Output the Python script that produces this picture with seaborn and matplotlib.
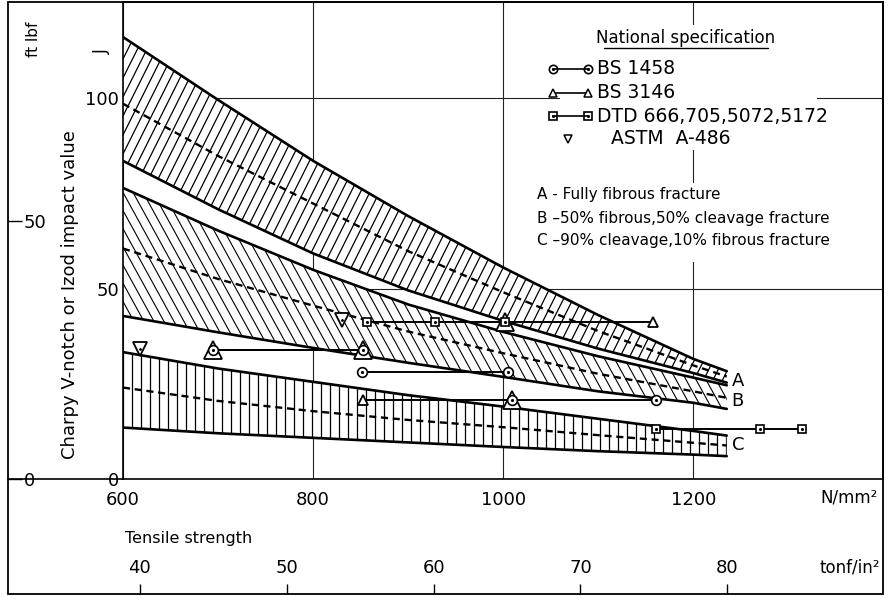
import numpy as np
import matplotlib
matplotlib.use("Agg")
import matplotlib.pyplot as plt
from matplotlib.collections import LineCollection
from matplotlib.patches import Rectangle
from matplotlib.lines import Line2D
import seaborn as sns

# ---------------------------------------------------------------------------
# Data
# ---------------------------------------------------------------------------
# Tensile strength (N/mm2) at which the band edges are given
strength = [600, 700, 800, 900, 1000, 1100, 1200, 1235]

# Band A - fully fibrous fracture (impact value, J)
a_upper = [116.0, 99.5, 83.5, 69.0, 55.5, 43.0, 31.5, 28.3]
a_mid = [98.5, 84.8, 72.3, 59.8, 49.0, 38.8, 29.8, 26.9]
a_lower = [83.5, 70.8, 59.2, 49.5, 41.5, 34.2, 27.8, 25.3]

# Band B - 50% fibrous, 50% cleavage fracture (J)
b_upper = [76.4, 65.2, 54.9, 45.8, 38.6, 32.2, 26.6, 24.6]
b_mid = [60.5, 52.5, 45.5, 38.7, 33.0, 27.6, 23.0, 21.3]
b_lower = [42.8, 38.5, 34.4, 30.5, 26.8, 23.0, 20.0, 18.4]

# Band C - 90% cleavage, 10% fibrous fracture (J)
c_upper = [33.3, 29.0, 25.5, 22.0, 19.0, 15.8, 12.6, 11.4]
c_mid = [24.0, 20.5, 17.8, 15.5, 13.6, 11.5, 9.5, 8.8]
c_lower = [13.5, 12.0, 10.8, 9.6, 8.4, 7.3, 6.4, 6.0]

# National specification minima (strength N/mm2, impact J), joined runs
bs1458_x = [[695, 852], [851, 1005], [1009, 1161]]
bs1458_y = [[33.8, 33.8], [28.0, 28.0], [20.7, 20.7]]
bs3146_x = [[695, 852], [852, 1009], [1002, 1157]]
bs3146_y = [[33.8, 33.8], [20.7, 20.7], [41.3, 41.3]]
dtd_x = [[857, 928, 1002], [1161, 1270, 1314]]
dtd_y = [[41.3, 41.3, 41.3], [13.1, 13.1, 13.1]]
astm_x = [618, 830]
astm_y = [34.0, 41.8]

spec_names = ["BS 1458", "BS 3146", "DTD 666,705,5072,5172", "ASTM  A-486"]
band_notes = ["A - Fully fibrous fracture",
              "B \u201350% fibrous,50% cleavage fracture",
              "C \u201390% cleavage,10% fibrous fracture"]

strength_ticks = [600, 800, 1000, 1200]
impact_ticks = [0, 50, 100]
ftlbf_ticks = [0, 50]
tonf_ticks = [40, 50, 60, 70, 80]

J_PER_FTLBF = 1.35582
NMM2_PER_TONF = 15.4443

# ---------------------------------------------------------------------------
# Style
# ---------------------------------------------------------------------------
sns.set_theme(style="white")
plt.rcParams["font.family"] = ["DejaVu Sans"]
plt.rcParams.update({"text.color": "black", "axes.labelcolor": "black",
                     "xtick.color": "black", "ytick.color": "black",
                     "axes.edgecolor": "black"})

W, H = 892, 596
fig = plt.figure(figsize=(W / 100, H / 100), dpi=100)


def fx(px):
    return px / W


def fy(py):
    return 1 - py / H


L, R, T, B = 123, 883, 2, 479
ax = fig.add_axes([fx(L), fy(B), (R - L) / W, (B - T) / H])
xlim = (600, 600 + (R - L) / 0.9508)
ylim = (0, (B - T) / 3.81)
ax.set_xlim(*xlim)
ax.set_ylim(*ylim)
ax.set_xticks(strength_ticks)
ax.set_yticks(impact_ticks)
ax.grid(True, color="#222222", lw=0.8)
ax.set_axisbelow(True)
for s in ax.spines.values():
    s.set_visible(True)
    s.set_linewidth(1.2)
    s.set_color("black")
ax.tick_params(axis="x", length=0, pad=8.5, labelsize=13)
ax.tick_params(axis="y", direction="in", length=7.5, width=1.0, pad=3, labelsize=13)
ax.set_xlabel("")
ax.set_ylabel("")

# white panels that the text blocks sit on
for x0, y0, x1, y1 in [(560, 25, 817, 150), (530, 183, 883, 262)]:
    ax.add_patch(Rectangle(((x0 - L) / (R - L), (B - y1) / (B - T)),
                           (x1 - x0) / (R - L), (y1 - y0) / (B - T),
                           transform=ax.transAxes, facecolor="white",
                           edgecolor="none", zorder=1.5))

bbox = ax.get_window_extent()
sx = bbox.width / (xlim[1] - xlim[0])
sy = bbox.height / (ylim[1] - ylim[0])


def hatch(poly, slope, step_px, lw):
    """Parallel hatch lines clipped to a band; slope is x-shift per y in pixels."""
    k = slope * sy / sx
    step = step_px / sx
    ys = np.array([ylim[0], ylim[1]])
    span = abs(k) * (ylim[1] - ylim[0])
    starts = np.arange(xlim[0] - span - step, xlim[1] + span + step, step)
    segs = [np.column_stack([s + k * ys, ys]) for s in starts]
    lc = LineCollection(segs, colors="black", linewidths=lw, zorder=2.5)
    ax.add_collection(lc, autolim=False)
    lc.set_clip_path(poly.get_paths()[0], ax.transData)


bands = [(a_upper, a_mid, a_lower, 0.5, 9.5, 0.9),
         (b_upper, b_mid, b_lower, -0.55, 10.0, 0.8),
         (c_upper, c_mid, c_lower, 0.0, 9.0, 0.9)]
for up, mid, lo, slope, step, hlw in bands:
    poly = ax.fill_between(strength, lo, up, facecolor="white",
                           edgecolor="none", zorder=2)
    hatch(poly, slope, step, hlw)
    sns.lineplot(x=strength, y=up, ax=ax, color="black", lw=1.9, zorder=3)
    sns.lineplot(x=strength, y=lo, ax=ax, color="black", lw=1.9, zorder=3)
    sns.lineplot(x=strength, y=mid, ax=ax, color="black", lw=1.7,
                 linestyle=(0, (3.0, 2.0)), zorder=3)

for lab, val in zip("ABC", [a_lower[-1] + 0.4, b_mid[-1] - 0.8, c_mid[-1]]):
    ax.text(strength[-1] + 5, val, lab, fontsize=13, ha="left", va="center",
            zorder=8)

# ---------------------------------------------------------------------------
# Specification values
# ---------------------------------------------------------------------------
def circle_dot(x, y, ms=7, **kw):
    ax.plot(x, y, "o", ms=ms, mfc="white", mec="black", mew=1.2,
            zorder=6, **kw)
    ax.plot(x, y, ".", ms=2.5, color="black", zorder=7, **kw)


def square_dot(x, y, ms=6, **kw):
    ax.plot(x, y, "s", ms=ms, mfc="white", mec="black", mew=1.2,
            zorder=6, **kw)
    ax.plot(x, y, ".", ms=2.5, color="black", zorder=7, **kw)


others = [(x, y) for xs, ys in zip(bs1458_x + dtd_x, bs1458_y + dtd_y)
          for x, y in zip(xs, ys)]

for xs, ys in zip(bs3146_x, bs3146_y):
    ax.plot(xs, ys, "-", color="black", lw=1.4, zorder=4)
    for x, y in zip(xs, ys):
        shared = any(abs(x - ox) < 10 and abs(y - oy) < 1.5 for ox, oy in others)
        ax.plot(x, y, "^", ms=13 if shared else 6.5, mfc="white", mec="black",
                mew=1.3, zorder=5)
for xs, ys in zip(bs1458_x, bs1458_y):
    ax.plot(xs, ys, "-", color="black", lw=1.4, zorder=4)
    circle_dot(xs, ys)
for xs, ys in zip(dtd_x, dtd_y):
    ax.plot(xs, ys, "-", color="black", lw=1.4, zorder=4)
    square_dot(xs, ys)
ax.plot(astm_x, astm_y, "v", ms=10, mfc="white", mec="black", mew=1.3,
        ls="none", zorder=5)
ax.plot(astm_x, astm_y, ".", ms=2, color="black", ls="none", zorder=6)

# ---------------------------------------------------------------------------
# Key
# ---------------------------------------------------------------------------
def axx(px):
    return (px - L) / (R - L)


def axy(py):
    return (B - py) / (B - T)


tA = ax.transAxes
ax.text(axx(686), axy(38), "National specification", transform=tA,
        fontsize=12, ha="center", va="center", zorder=8)
ax.add_line(Line2D([axx(604), axx(768)], [axy(48), axy(48)], transform=tA,
                   color="black", lw=1.0, zorder=8))
key_rows = [69, 93, 116, 139]
for i, (name, row) in enumerate(zip(spec_names, key_rows)):
    yk = axy(row)
    if i < 3:
        ax.plot([axx(553), axx(588)], [yk, yk], "-", color="black", lw=1.2,
                transform=tA, zorder=8)
        if i == 0:
            circle_dot([axx(553), axx(588)], [yk, yk], ms=6, transform=tA)
        elif i == 1:
            ax.plot([axx(553), axx(588)], [yk, yk], "^", ms=5.5, mfc="white",
                    mec="black", mew=1.1, transform=tA, zorder=8)
        else:
            square_dot([axx(553), axx(588)], [yk, yk], ms=5.5, transform=tA)
        ax.text(axx(597), yk, name, transform=tA, fontsize=13.5,
                ha="left", va="center", zorder=8)
    else:
        ax.plot([axx(568)], [yk], "v", ms=5.5, mfc="white", mec="black",
                mew=1.1, transform=tA, zorder=8)
        ax.text(axx(611), yk, name, transform=tA, fontsize=13.5,
                ha="left", va="center", zorder=8)

for note, row in zip(band_notes, [195, 218, 241]):
    ax.text(axx(537), axy(row), note, transform=tA, fontsize=11,
            ha="left", va="center", zorder=8)

# ---------------------------------------------------------------------------
# ft lbf scale on the left edge
# ---------------------------------------------------------------------------
ax_ft = fig.add_axes([fx(8), fy(B), 0.0001, (B - T) / H])
ax_ft.set_ylim(ylim[0] / J_PER_FTLBF, ylim[1] / J_PER_FTLBF)
ax_ft.set_yticks(ftlbf_ticks)
ax_ft.yaxis.tick_right()
ax_ft.tick_params(axis="y", direction="out", length=10, width=1.0, pad=1.5,
                  labelsize=13)
ax_ft.set_xticks([])
for s in ax_ft.spines.values():
    s.set_visible(False)
ax_ft.patch.set_visible(False)

# tonf/in2 scale along the bottom edge
ax_t = fig.add_axes([fx(L), fy(594), (R - L) / W, 0.0001])
ax_t.set_xlim(xlim[0] / NMM2_PER_TONF, xlim[1] / NMM2_PER_TONF)
ax_t.set_xticks(tonf_ticks)
ax_t.xaxis.tick_top()
ax_t.tick_params(axis="x", direction="out", length=7.5, width=1.0, pad=4.5,
                 labelsize=13)
ax_t.set_yticks([])
for s in ax_t.spines.values():
    s.set_visible(False)
ax_t.patch.set_visible(False)

# ---------------------------------------------------------------------------
# Frame and titles
# ---------------------------------------------------------------------------
fig.add_artist(Rectangle((fx(8), fy(594)), (883 - 8) / W, (594 - 2) / H,
                         transform=fig.transFigure, fill=False,
                         edgecolor="black", lw=1.3))
fig.add_artist(Line2D([fx(8), fx(L)], [fy(B), fy(B)],
                      transform=fig.transFigure, color="black", lw=1.2))

fig.text(fx(33), fy(39), "ft lbf", rotation=90, fontsize=11,
         ha="center", va="center")
fig.text(fx(102), fy(52), "J", rotation=90, fontsize=12,
         ha="center", va="center")
fig.text(fx(70), fy(295), "Charpy V-notch or Izod impact value", rotation=90,
         fontsize=13, ha="center", va="center")
fig.text(fx(878), fy(498), "N/mm\u00b2", fontsize=12, ha="right", va="center")
fig.text(fx(880), fy(567), "tonf/in\u00b2", fontsize=12, ha="right", va="center")
fig.text(fx(125), fy(538), "Tensile strength", fontsize=11.5,
         ha="left", va="center")

fig.savefig("out.png", dpi=100, facecolor="white")
